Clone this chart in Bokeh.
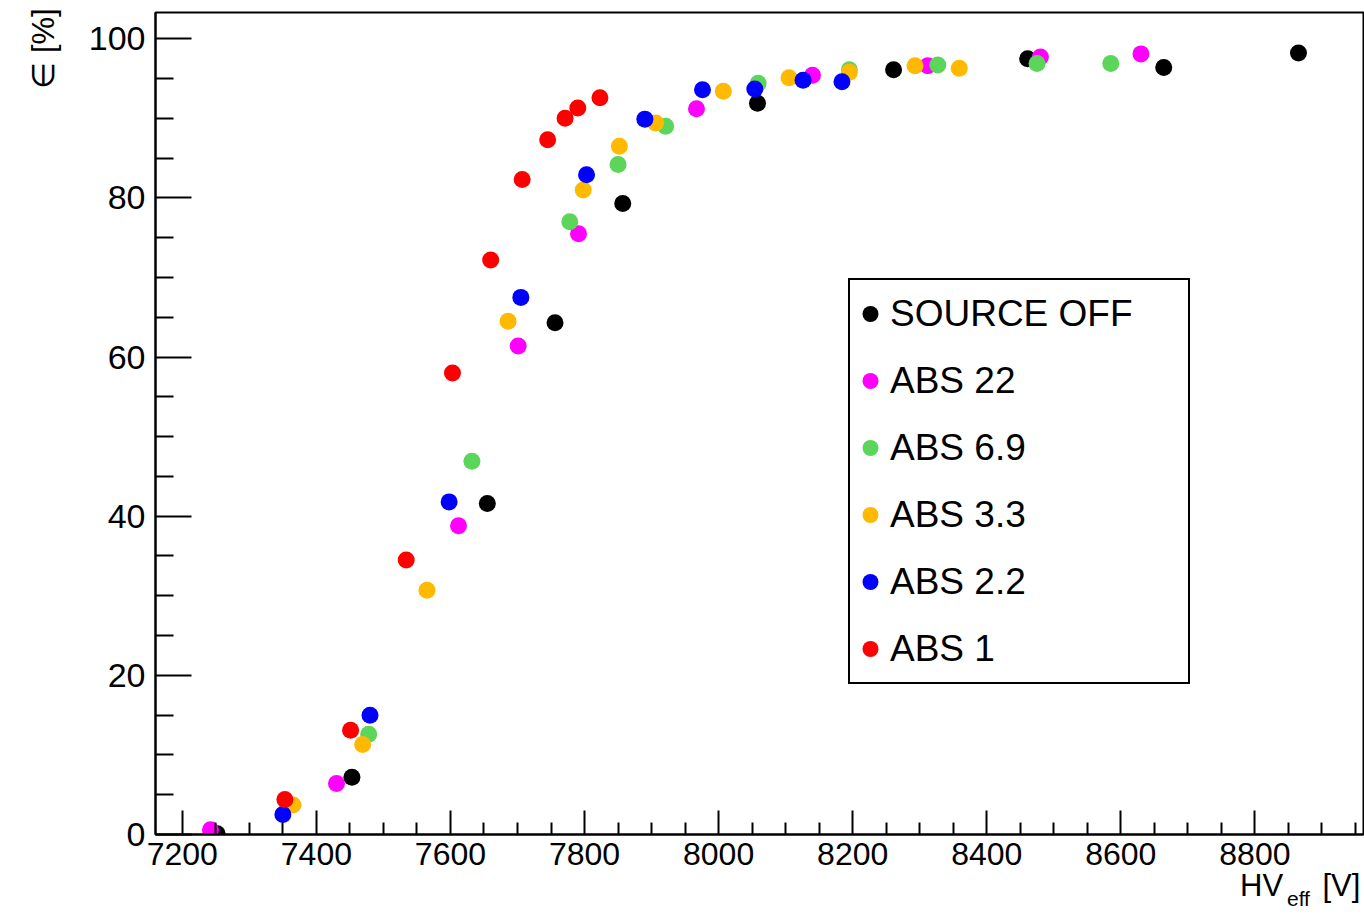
from bokeh.plotting import figure
from bokeh.models import FixedTicker, Legend, LegendItem, Range1d, LinearAxis
from bokeh.embed import file_html
from bokeh.resources import INLINE

# ---------------- data ----------------
series_names = ["SOURCE OFF", "ABS 22", "ABS 6.9", "ABS 3.3", "ABS 2.2", "ABS 1"]
series_colors = ["#000000", "#ff00ff", "#5bd65b", "#ffb900", "#0000ff", "#ff0000"]

hv_source_off = [7252, 7453, 7655, 7756, 7857, 8058, 8261, 8461, 8664, 8865]
eff_source_off = [0.1, 7.2, 41.6, 64.3, 79.3, 91.9, 96.1, 97.5, 96.4, 98.2]

hv_abs22 = [7242, 7430, 7612, 7701, 7791, 7967, 8140, 8312, 8480, 8630]
eff_abs22 = [0.6, 6.4, 38.8, 61.4, 75.5, 91.2, 95.4, 96.6, 97.7, 98.1]

hv_abs69 = [7478, 7632, 7778, 7850, 7921, 8059, 8195, 8327, 8475, 8585]
eff_abs69 = [12.6, 46.9, 77.0, 84.2, 89.0, 94.4, 96.1, 96.7, 96.9, 96.9]

hv_abs33 = [7365, 7469, 7565, 7686, 7798, 7852, 7906, 8007, 8105, 8195, 8293, 8359]
eff_abs33 = [3.7, 11.3, 30.7, 64.5, 81.0, 86.5, 89.4, 93.4, 95.1, 95.8, 96.6, 96.3]

hv_abs22b = [7350, 7480, 7598, 7705, 7803, 7890, 7976, 8054, 8126, 8184]
eff_abs22b = [2.5, 15.0, 41.8, 67.5, 82.9, 89.9, 93.6, 93.7, 94.8, 94.6]

hv_abs1 = [7353, 7451, 7534, 7603, 7660, 7707, 7745, 7771, 7790, 7823]
eff_abs1 = [4.4, 13.1, 34.5, 58.0, 72.2, 82.3, 87.3, 90.0, 91.3, 92.6]

x_major_ticks = [7200, 7400, 7600, 7800, 8000, 8200, 8400, 8600, 8800]
y_major_ticks = [0, 20, 40, 60, 80, 100]

x_title_main = "HV"
x_title_sub = "eff"
x_title_unit = "[V]"
y_title = "∈ [%]"

series_x = [hv_source_off, hv_abs22, hv_abs69, hv_abs33, hv_abs22b, hv_abs1]
series_y = [eff_source_off, eff_abs22, eff_abs69, eff_abs33, eff_abs22b, eff_abs1]

# ---------------- layout ----------------
W, H = 1364, 916
FL, FR, FT, FB = 155, 1363, 12, 834          # frame edges on the canvas
X0, X1 = 7160.0, 8962.0
Y0, Y1 = 0.0, 103.3
FONT = "Liberation Sans"


def dx(cx):
    return round(X0 + (cx - FL) * (X1 - X0) / (FR - FL))


def dy(cy):
    return round(Y0 + (FB - cy) * (Y1 - Y0) / (FB - FT), 2)


p = figure(width=W, height=H, output_backend="svg", toolbar_location=None,
           x_range=Range1d(X0, X1), y_range=Range1d(Y0, Y1),
           min_border_left=FL, min_border_right=W - FR,
           min_border_top=FT, min_border_bottom=H - FB)
p.title = None
p.background_fill_color = "white"
p.border_fill_color = "white"
p.outline_line_color = "black"
p.outline_line_width = 2
p.xgrid.visible = False
p.ygrid.visible = False

xax = p.xaxis[0]
yax = p.yaxis[0]

x_minor = [v for v in range(7200, 8962, 50) if v not in x_major_ticks]
y_minor = [v for v in range(0, 104, 5) if v not in y_major_ticks]
xax.ticker = FixedTicker(ticks=x_major_ticks, minor_ticks=x_minor)
yax.ticker = FixedTicker(ticks=y_major_ticks, minor_ticks=y_minor)

for ax, tin, tmin, fs in ((xax, 24, 12, "32px"), (yax, 36, 18, "34px")):
    ax.axis_line_width = 2
    ax.axis_line_color = "black"
    ax.major_tick_in = tin
    ax.major_tick_out = 0
    ax.minor_tick_in = tmin
    ax.minor_tick_out = 0
    ax.major_tick_line_width = 2
    ax.minor_tick_line_width = 2
    ax.major_label_text_font = FONT
    ax.major_label_text_font_size = fs
    ax.major_label_text_color = "black"
xax.major_label_standoff = 8
yax.major_label_standoff = 10


def title_axis(ticks, labels, font_size, standoff, orientation="horizontal"):
    ax = LinearAxis()
    ax.ticker = FixedTicker(ticks=ticks, minor_ticks=[])
    ax.major_label_overrides = {t: lab for t, lab in zip(ticks, labels)}
    ax.axis_line_color = None
    ax.major_tick_line_color = None
    ax.minor_tick_line_color = None
    ax.major_tick_in = 0
    ax.major_tick_out = 0
    ax.minor_tick_in = 0
    ax.minor_tick_out = 0
    ax.major_label_standoff = standoff
    ax.major_label_orientation = orientation
    ax.major_label_text_font = FONT
    ax.major_label_text_font_size = font_size
    ax.major_label_text_color = "black"
    return ax


# x-axis title "HV_eff [V]" (main text row, then the subscript row)
x_title_row = title_axis([dx(1261), dx(1341)], [x_title_main, x_title_unit], "31px", 0)
x_sub_row = title_axis([dx(1298)], [x_title_sub], "21px", -19)
p.add_layout(x_title_row, "below")
p.add_layout(x_sub_row, "below")

# y-axis title "∈ [%]" at the top end of the axis, rotated
y_title_col = title_axis([dy(48)], [y_title], "31px", 24, orientation="vertical")
p.add_layout(y_title_col, "left")

# data points
renderers = []
for xs, ys, col in zip(series_x, series_y, series_colors):
    r = p.scatter(xs, ys, size=17, fill_color=col, line_color=None, marker="circle")
    renderers.append(r)

legend = Legend(items=[LegendItem(label=n, renderers=[r]) for n, r in zip(series_names, renderers)],
                location=(693, 150), orientation="vertical",
                glyph_width=40, glyph_height=67, label_height=67, label_width=298,
                spacing=0, padding=0, margin=0, label_standoff=0,
                label_text_font=FONT, label_text_font_size="37px", label_text_color="black",
                border_line_color="black", border_line_width=2, border_line_alpha=1.0,
                background_fill_color="white", background_fill_alpha=1.0)
p.add_layout(legend, "center")

open("out.html", "w").write(file_html(p, INLINE))
